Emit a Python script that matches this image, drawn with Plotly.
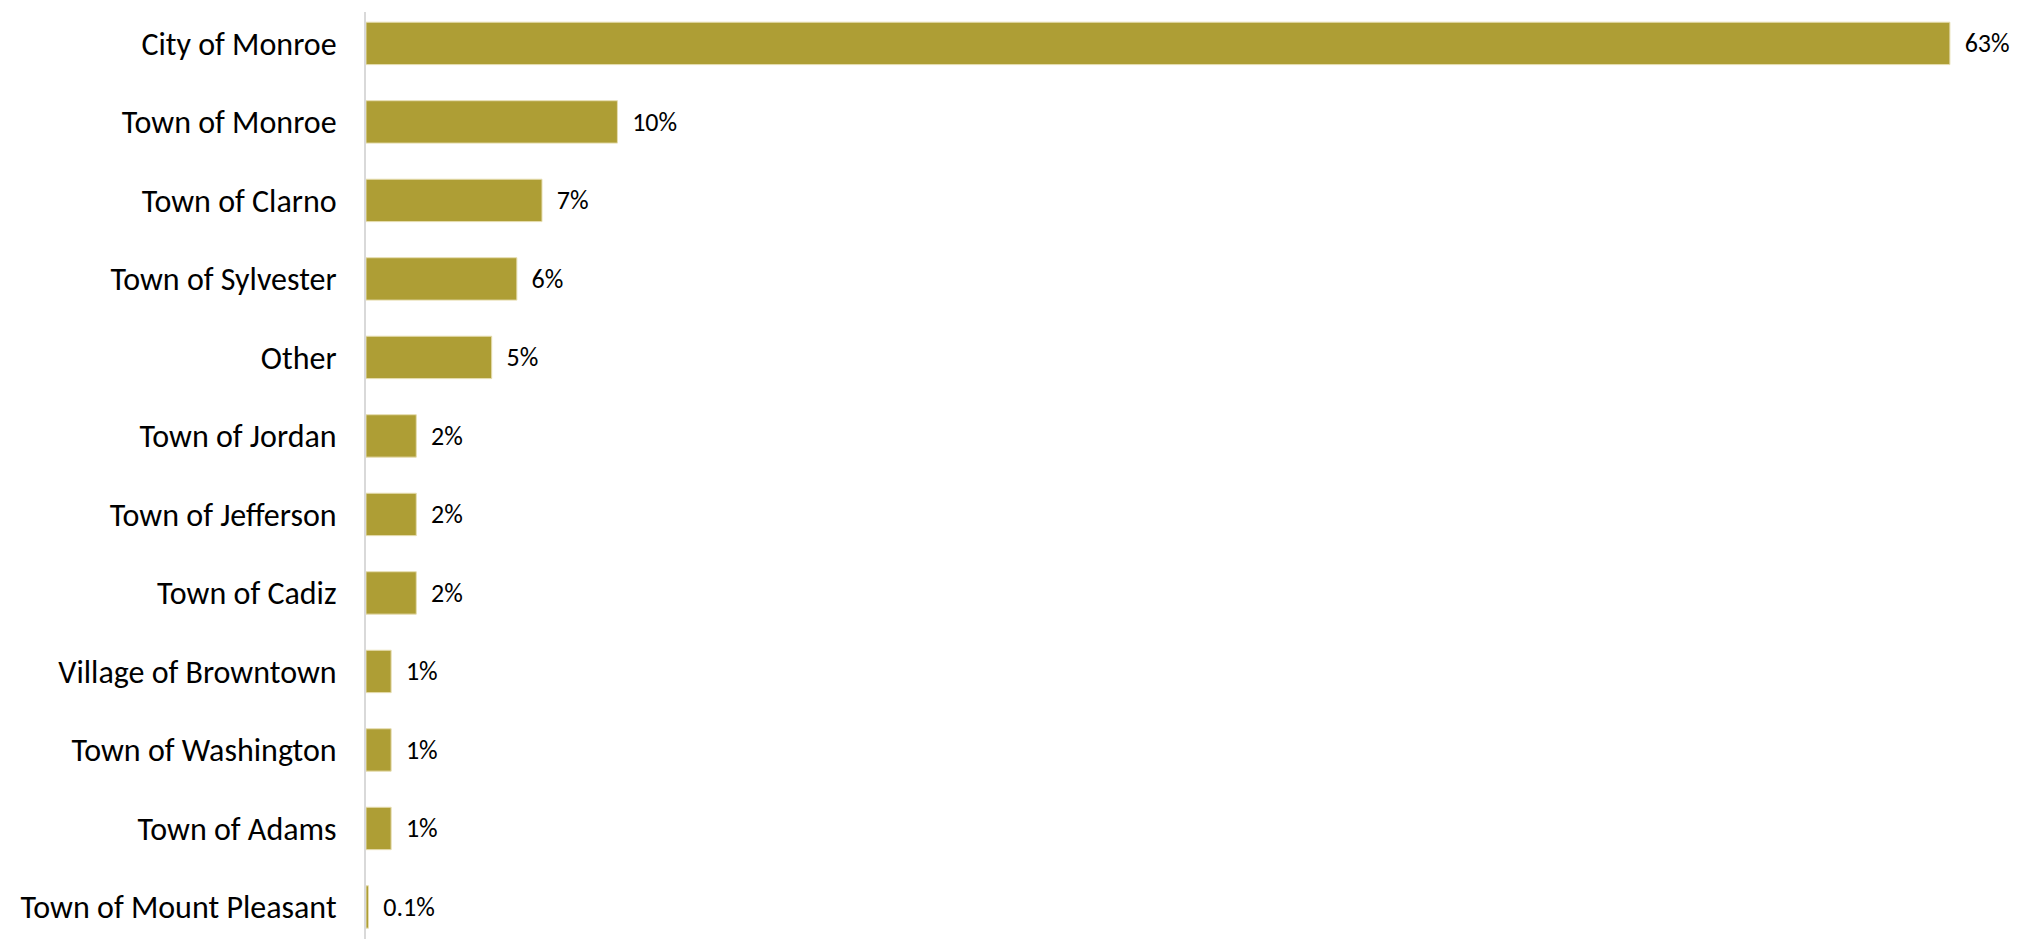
import plotly.graph_objects as go

categories = ["City of Monroe", "Town of Monroe", "Town of Clarno", "Town of Sylvester",
              "Other", "Town of Jordan", "Town of Jefferson", "Town of Cadiz",
              "Village of Browntown", "Town of Washington", "Town of Adams",
              "Town of Mount Pleasant"]
values = [63, 10, 7, 6, 5, 2, 2, 2, 1, 1, 1, 0.1]
labels = ["63%", "10%", "7%", "6%", "5%", "2%", "2%", "2%", "1%", "1%", "1%", "0.1%"]

FONT = "Carlito, Lato, sans-serif"

fig = go.Figure(go.Bar(
    x=values, y=categories, orientation="h",
    marker=dict(color="#AE9E35", line=dict(color="#E6DDB0", width=1)),
    width=0.54,
    text=labels, texttemplate="\u00a0\u00a0%{text}", textposition="outside",
    cliponaxis=False,
    textfont=dict(family=FONT, size=26, color="#000000"),
    hoverinfo="skip",
))

fig.update_layout(
    width=2022, height=939,
    margin=dict(l=358, r=18, t=4, b=0),
    paper_bgcolor="white", plot_bgcolor="white",
    showlegend=False,
    font=dict(family=FONT, color="#000000"),
)
fig.update_xaxes(range=[0, 65.47], visible=False, showgrid=False, zeroline=False)
fig.update_yaxes(
    type="category", categoryorder="array", categoryarray=categories,
    range=[11.51, -0.4],
    showgrid=False, zeroline=False,
    showline=True, linecolor="#D9D9D9", linewidth=2,
    ticks="", ticklabelstandoff=21,
    tickfont=dict(family=FONT, size=32, color="#000000"),
)

fig.write_html("out.html")
